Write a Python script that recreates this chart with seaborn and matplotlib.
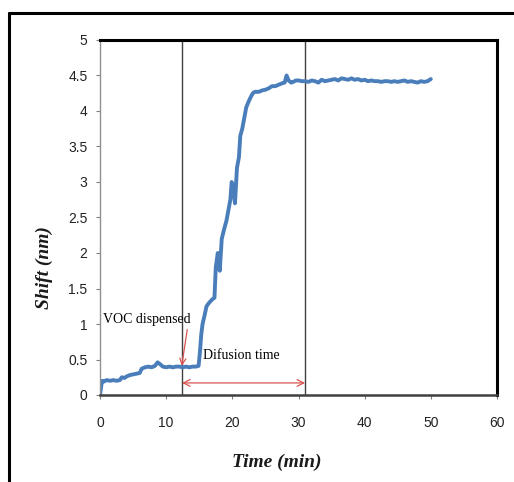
import matplotlib
matplotlib.use("Agg")
import matplotlib.pyplot as plt
from matplotlib.lines import Line2D
import seaborn as sns
import pandas as pd

# Data
time_min = [0.0, 0.3, 0.6, 1.0, 1.5, 2.0, 2.5, 3.0, 3.3, 3.7, 4.0, 4.5, 5.0, 5.5, 6.0, 6.3,
            6.8, 7.3, 7.8, 8.3, 8.7, 9.0, 9.5, 10.0, 10.5, 11.0, 11.5, 12.0, 12.5, 13.0,
            13.5, 14.0, 14.5, 14.9, 15.1, 15.3, 15.5, 15.8, 16.1, 16.5, 17.0, 17.3, 17.5,
            17.8, 18.1, 18.4, 18.8, 19.1, 19.4, 19.7, 19.9, 20.1, 20.4, 20.7, 21.0, 21.2,
            21.5, 21.8, 22.1, 22.4, 22.8, 23.1, 23.4, 24.0, 24.5, 25.0, 25.5, 26.0, 26.5,
            27.0, 27.5, 27.9, 28.2, 28.5, 28.9, 29.2, 29.6, 30.0, 30.5, 31.0, 31.5, 32.0,
            32.5, 33.0, 33.5, 34.0, 34.5, 35.0, 35.5, 36.0, 36.5, 37.0, 37.5, 38.0, 38.5,
            39.0, 39.5, 40.0, 40.5, 41.0, 41.5, 42.0, 42.5, 43.0, 43.5, 44.0, 44.5, 45.0,
            45.5, 46.0, 46.5, 47.0, 47.5, 48.0, 48.5, 49.0, 49.5, 50.0]
shift_nm = [0.0, 0.2, 0.19, 0.21, 0.2, 0.21, 0.2, 0.21, 0.25, 0.24, 0.26, 0.28, 0.29, 0.3,
            0.31, 0.37, 0.39, 0.4, 0.39, 0.41, 0.46, 0.44, 0.4, 0.39, 0.4, 0.39, 0.4, 0.4,
            0.39, 0.4, 0.39, 0.4, 0.4, 0.41, 0.6, 0.85, 1.0, 1.12, 1.25, 1.3, 1.35, 1.37,
            1.8, 2.0, 1.75, 2.2, 2.35, 2.45, 2.6, 2.75, 3.0, 2.95, 2.7, 3.2, 3.35, 3.65,
            3.75, 3.9, 4.05, 4.12, 4.2, 4.25, 4.27, 4.27, 4.29, 4.3, 4.32, 4.35, 4.35,
            4.37, 4.39, 4.4, 4.5, 4.43, 4.4, 4.41, 4.43, 4.43, 4.42, 4.42, 4.41, 4.43,
            4.42, 4.4, 4.44, 4.42, 4.43, 4.44, 4.45, 4.43, 4.46, 4.45, 4.44, 4.46, 4.44,
            4.45, 4.43, 4.44, 4.42, 4.43, 4.42, 4.42, 4.41, 4.42, 4.42, 4.41, 4.42, 4.41,
            4.42, 4.43, 4.41, 4.42, 4.41, 4.40, 4.42, 4.41, 4.42, 4.45]

x_ticks = [0, 10, 20, 30, 40, 50, 60]
y_ticks = [0, 0.5, 1, 1.5, 2, 2.5, 3, 3.5, 4, 4.5, 5]
y_tick_labels = ["0", "0.5", "1", "1.5", "2", "2.5", "3", "3.5", "4", "4.5", "5"]
event_times = [12.4, 31.0]
annot_voc = "VOC dispensed"
annot_diff = "Difusion time"

df = pd.DataFrame({"Time": time_min, "Shift": shift_nm})

sns.set_theme(style="white")
plt.rcParams["font.family"] = ["Liberation Sans Narrow", "Liberation Sans", "DejaVu Sans"]

fig = plt.figure(figsize=(5.14, 4.82), dpi=100)
ax = fig.add_axes([100 / 514, 87 / 482, 397 / 514, 355 / 482])

sns.lineplot(data=df, x="Time", y="Shift", ax=ax, color="#4a7ebb", linewidth=2.8,
             estimator=None, sort=False)

ax.set_xlim(0, 60)
ax.set_ylim(0, 5)
ax.set_xticks(x_ticks)
ax.set_xticklabels([str(v) for v in x_ticks])
ax.set_yticks(y_ticks)
ax.set_yticklabels(y_tick_labels)
ax.tick_params(axis="both", which="major", direction="out", length=3, width=0.8,
               color="#808080", labelsize=10, labelcolor="#222222", pad=6,
               bottom=True, left=True)
ax.tick_params(axis="x", pad=12)

for side in ["top", "right"]:
    ax.spines[side].set_color("black")
    ax.spines[side].set_linewidth(2.2)
ax.spines["bottom"].set_color("#404040")
ax.spines["bottom"].set_linewidth(1.8)
ax.spines["left"].set_color("#909090")
ax.spines["left"].set_linewidth(1.0)

for t in event_times:
    ax.axvline(t, color="#404040", linewidth=1.0, zorder=1)

serif = ["Liberation Serif", "DejaVu Serif"]
ax.set_xlabel("Time (min)", family=serif, fontsize=14, fontweight="bold", style="italic",
              color="#1a1a1a")
ax.set_ylabel("Shift (nm)", family=serif, fontsize=14, fontweight="bold", style="italic",
              color="#1a1a1a")
ax.xaxis.set_label_coords(0.446, -0.165)
ax.yaxis.set_label_coords(-0.118, 0.36)

ax.annotate(annot_voc, xy=(event_times[0] - 0.05, 0.41), xytext=(0.45, 1.06),
            fontsize=10, family=serif, color="black", ha="left", va="center",
            arrowprops=dict(arrowstyle="->", color="#d9534f", lw=0.9,
                            shrinkA=0, shrinkB=0, mutation_scale=11,
                            relpos=(0.97, 0.1)))
ax.annotate("", xy=(event_times[0], 0.17), xytext=(event_times[1], 0.17),
            arrowprops=dict(arrowstyle="<->", color="#d9534f", lw=0.9,
                            shrinkA=0, shrinkB=0, mutation_scale=12))
ax.text(21.4, 0.56, annot_diff, fontsize=10, family=serif, color="black",
        ha="center", va="center")

# outer frame
fig.add_artist(Line2D([9 / 514, 1.0], [1 - 13 / 482] * 2, transform=fig.transFigure,
                      color="black", linewidth=2.2))
fig.add_artist(Line2D([9 / 514] * 2, [0.0, 1 - 13 / 482], transform=fig.transFigure,
                      color="black", linewidth=2.2))

fig.savefig("out.png", dpi=100)
